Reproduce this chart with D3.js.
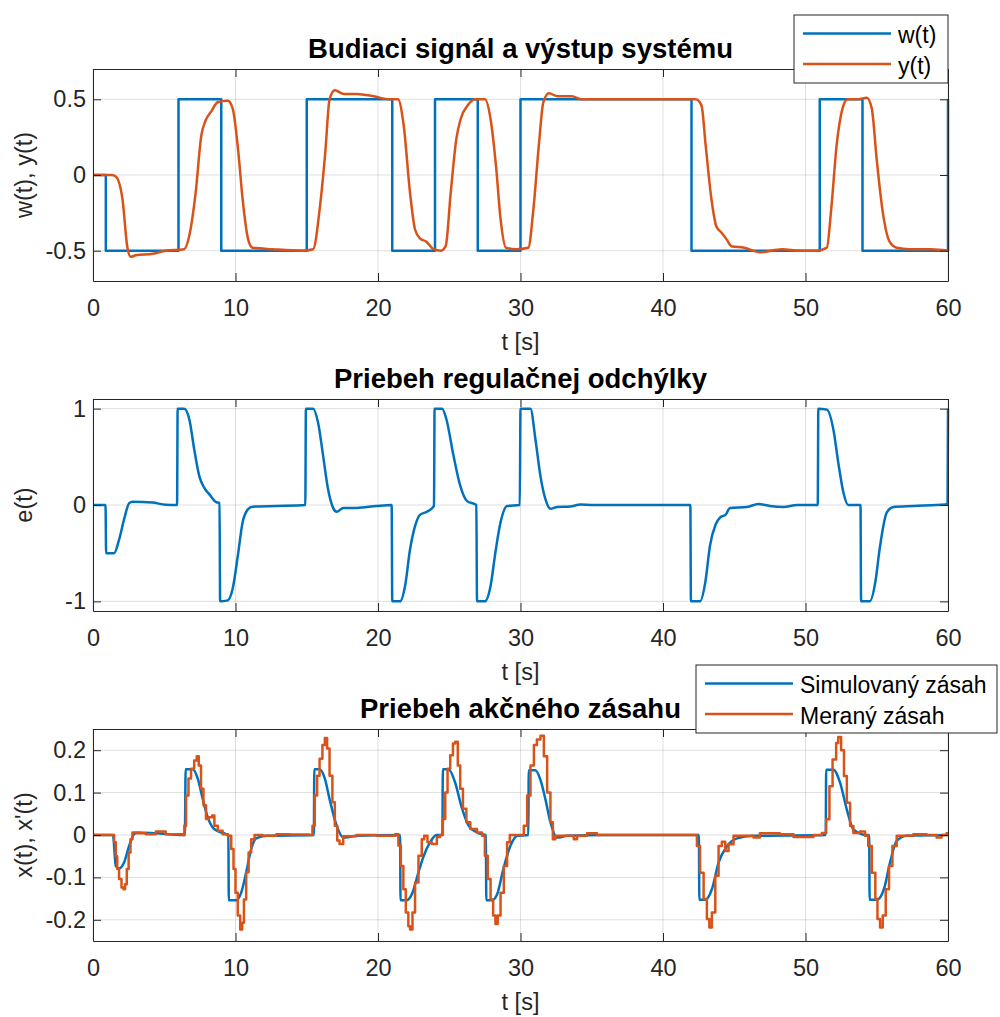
<!DOCTYPE html>
<html>
<head>
<meta charset="utf-8">
<script src="https://cdn.jsdelivr.net/npm/d3@7"></script>
<style>
  body { margin: 0; background: #fff; }
  text { font-family: "Liberation Sans", Arial, Helvetica, sans-serif; }
</style>
</head>
<body>
<svg id="chart"></svg>
<script>
// --- data (t [s], value) ---
let wData = [[0,0],[0.9,0],[0.9,-0.5],[6,-0.5],[6,0.5],[9,0.5],[9,-0.5],[15,-0.5],[15,0.5],[21,0.5],[21,-0.5],
  [24,-0.5],[24,0.5],[27,0.5],[27,-0.5],[30,-0.5],[30,0.5],[42,0.5],[42,-0.5],[51,-0.5],[51,0.5],[54,0.5],[54,-0.5],
  [60,-0.5],[60,0.5]];

let yData = [[0,0],[1.3,0],[1.6,-0.01],[2.07,-0.16],[2.4,-0.47],[2.65,-0.54],[3.0,-0.53],[4.2,-0.52],[5.1,-0.5],
  [6.4,-0.49],[6.76,-0.4],[7.2,-0.12],[7.6,0.26],[7.9,0.36],[8.3,0.42],[8.75,0.48],[9.46,0.49],[9.8,0.44],
  [10.2,0.15],[10.5,-0.16],[10.9,-0.43],[11.2,-0.48],[12.6,-0.49],[14.7,-0.5],[15.45,-0.49],[15.9,-0.23],
  [16.3,0.15],[16.6,0.5],[16.97,0.56],[17.6,0.535],[18.5,0.535],[19.7,0.52],[20.8,0.5],[21.4,0.5],[21.8,0.33],
  [22.25,-0.12],[22.6,-0.36],[22.96,-0.42],[23.4,-0.44],[23.9,-0.49],[24.4,-0.5],[24.75,-0.47],[25.1,-0.12],
  [25.5,0.24],[25.8,0.37],[26.3,0.46],[26.8,0.5],[27.5,0.5],[27.9,0.37],[28.3,0.04],[28.6,-0.29],[28.98,-0.48],
  [29.7,-0.49],[30.55,-0.48],[30.9,-0.23],[31.3,0.21],[31.6,0.48],[32.0,0.54],[32.6,0.52],[33.6,0.52],[34.3,0.5],
  [35.0,0.5],[42.3,0.5],[42.7,0.46],[43.0,0.19],[43.4,-0.16],[43.75,-0.34],[44.1,-0.38],[44.5,-0.43],[44.8,-0.47],
  [45.7,-0.48],[46.8,-0.51],[48.35,-0.49],[49.6,-0.5],[50.8,-0.5],[51.5,-0.48],[51.8,-0.23],[52.2,0.21],
  [52.6,0.44],[52.95,0.5],[53.7,0.5],[54.3,0.51],[54.65,0.44],[55.0,0.1],[55.4,-0.23],[55.9,-0.44],[56.4,-0.48],
  [57.3,-0.49],[58.8,-0.49],[60,-0.5]];

let eData = [[0,0],[0.88,0],[0.92,-0.5],[1.48,-0.5],[1.83,-0.36],[2.18,-0.15],[2.54,0.02],[2.77,0.035],[4.18,0.025],
  [5.1,0.003],[5.9,0],[5.94,1],[6.4,1],[6.76,0.89],[7.1,0.58],[7.46,0.3],[7.8,0.18],[8.17,0.11],[8.64,0.03],
  [8.88,0.02],[8.92,-1],[9.46,-0.99],[9.8,-0.87],[10.16,-0.53],[10.5,-0.18],[10.87,-0.045],[11.2,-0.017],
  [12.86,-0.01],[14.9,0],[14.94,1],[15.45,1],[15.8,0.85],[16.15,0.51],[16.5,0.16],[16.85,-0.03],[17.1,-0.07],
  [17.56,-0.03],[18.5,-0.03],[19.9,-0.01],[20.96,0],[21.0,-1],[21.55,-1],[21.9,-0.84],[22.25,-0.46],[22.6,-0.22],
  [22.96,-0.1],[23.43,-0.07],[23.93,-0.01],[23.97,1],[24.5,1],[24.8,0.89],[25.3,0.51],[25.77,0.2],[26.25,0.04],
  [26.9,0],[26.95,-1],[27.5,-1],[27.9,-0.84],[28.24,-0.49],[28.6,-0.18],[29.06,-0.01],[29.95,0],[30.0,1],
  [30.7,1],[31.05,0.68],[31.4,0.3],[31.75,0.06],[32.1,-0.04],[32.57,-0.02],[33.5,-0.015],[34.2,0.005],[35.1,0],
  [41.92,0],[41.96,-1],[42.6,-1],[42.97,-0.8],[43.3,-0.42],[43.7,-0.2],[44.0,-0.13],[44.4,-0.1],[44.7,-0.03],
  [45.9,-0.02],[46.7,0.01],[47.5,-0.01],[48.46,-0.02],[49.4,0],[50.86,0],[50.9,1],[51.5,0.99],[51.96,0.78],
  [52.3,0.44],[52.66,0.13],[53.0,0],[53.86,0],[53.9,-1],[54.5,-1],[54.9,-0.8],[55.2,-0.46],[55.7,-0.08],
  [56.17,-0.02],[57.57,-0.01],[59.8,0.005],[59.97,0.01],[60,1]];

let xSimData = [[0,0],[1.4,0],[1.6,-0.073],[1.83,-0.079],[2.18,-0.065],[2.54,-0.025],[2.9,0.003],[3.12,0.006],
  [4.4,0.004],[6.3,0],[6.45,0],[6.5,0.155],[7.0,0.155],[7.35,0.133],[7.7,0.085],[8.05,0.042],[8.5,0.014],
  [9.34,0.002],[9.5,0],[9.53,-0.154],[10.05,-0.154],[10.4,-0.136],[10.75,-0.088],[11.1,-0.033],[11.45,-0.008],
  [12.16,-0.002],[15.5,0],[15.53,0.155],[15.9,0.155],[16.27,0.133],[16.6,0.085],[17.1,0.022],[17.56,-0.006],
  [18.5,-0.002],[21.55,0],[21.58,-0.154],[22.0,-0.154],[22.37,-0.14],[22.84,-0.088],[23.2,-0.05],[23.66,-0.017],
  [24.1,0],[24.52,0],[24.55,0.155],[24.95,0.155],[25.4,0.125],[25.9,0.062],[26.36,0.022],[27.07,0.004],[27.57,0],
  [27.6,-0.154],[28.0,-0.154],[28.36,-0.14],[28.8,-0.08],[29.3,-0.025],[29.77,-0.002],[30.55,0],[30.58,0.153],
  [31.05,0.153],[31.4,0.13],[31.75,0.084],[32.1,0.03],[32.57,-0.006],[33.27,-0.002],[35.8,0],[42.52,0],
  [42.55,-0.153],[42.97,-0.153],[43.43,-0.128],[43.9,-0.065],[44.5,-0.026],[45.2,-0.008],[46.35,-0.002],
  [51.42,0],[51.45,0.154],[51.96,0.154],[52.43,0.123],[52.9,0.06],[53.36,0.013],[54.3,0],[54.47,0],
  [54.5,-0.153],[55.0,-0.153],[55.5,-0.128],[55.93,-0.065],[56.4,-0.014],[57.1,-0.002],[60,0]];

let xMerData = [[0,0],[1.36,0],[1.48,-0.017],[1.6,-0.05],[1.7,-0.08],[1.83,-0.104],[2.0,-0.124],[2.14,-0.128],
  [2.25,-0.116],[2.37,-0.08],[2.5,-0.041],[2.63,-0.01],[2.77,0.006],[3.0,0.004],[3.7,0.002],[4.41,0.008],
  [5.1,0.002],[6.3,0],[6.41,0.022],[6.53,0.093],[6.7,0.133],[6.88,0.156],[7.1,0.176],[7.28,0.186],[7.42,0.164],
  [7.58,0.109],[7.75,0.07],[7.93,0.038],[8.12,0.042],[8.36,0.046],[8.52,0.022],[8.76,0.01],[9.1,0.002],
  [9.46,-0.002],[9.7,-0.033],[9.86,-0.08],[10.0,-0.136],[10.16,-0.19],[10.33,-0.223],[10.47,-0.207],
  [10.59,-0.152],[10.75,-0.088],[10.92,-0.041],[11.1,-0.01],[11.34,0],[11.9,-0.002],[12.86,0.002],[13.8,0.001],
  [15.2,0],[15.4,0.022],[15.56,0.093],[15.73,0.14],[15.9,0.18],[16.1,0.212],[16.27,0.229],[16.43,0.204],
  [16.6,0.14],[16.8,0.077],[16.97,0.022],[17.14,-0.013],[17.3,-0.021],[17.56,-0.003],[18.5,0],[19.9,-0.002],
  [21.2,0.002],[21.43,-0.025],[21.6,-0.073],[21.78,-0.128],[21.95,-0.183],[22.13,-0.215],[22.25,-0.223],
  [22.42,-0.183],[22.6,-0.112],[22.84,-0.049],[23.07,-0.01],[23.24,-0.002],[23.47,-0.017],[23.78,-0.021],
  [24.13,-0.005],[24.36,0],[24.55,0.038],[24.72,0.1],[24.88,0.156],[25.07,0.188],[25.26,0.216],[25.42,0.22],
  [25.6,0.164],[25.77,0.109],[25.96,0.062],[26.2,0.03],[26.48,0.014],[26.95,0.006],[27.3,-0.002],[27.5,-0.049],
  [27.7,-0.104],[27.9,-0.152],[28.08,-0.19],[28.24,-0.21],[28.4,-0.19],[28.6,-0.136],[28.83,-0.073],
  [29.06,-0.017],[29.25,0],[30.0,0],[30.23,0.022],[30.47,0.093],[30.7,0.164],[30.94,0.212],[31.15,0.225],
  [31.4,0.234],[31.64,0.186],[31.87,0.1],[32.1,0.03],[32.27,-0.01],[32.45,-0.002],[33.0,-0.002],[33.74,-0.01],
  [33.97,-0.002],[34.67,0.004],[35.37,0],[42.15,0],[42.38,-0.026],[42.6,-0.089],[42.85,-0.151],[43.08,-0.198],
  [43.25,-0.218],[43.43,-0.183],[43.67,-0.096],[43.9,-0.026],[44.13,-0.016],[44.37,-0.038],[44.6,-0.022],
  [44.95,-0.002],[45.9,-0.002],[46.35,-0.006],[46.8,0.004],[48.2,0.002],[49.16,-0.005],[50.56,0],[51.15,0.005],
  [51.45,0.037],[51.68,0.115],[51.9,0.178],[52.15,0.217],[52.3,0.231],[52.5,0.2],[52.7,0.139],[52.9,0.076],
  [53.13,0.021],[53.36,0.005],[53.83,0.008],[54.18,-0.002],[54.4,-0.026],[54.65,-0.089],[54.9,-0.151],
  [55.05,-0.198],[55.23,-0.218],[55.42,-0.19],[55.63,-0.128],[55.86,-0.073],[56.1,-0.026],[56.4,-0.002],
  [57.57,0.002],[58.5,0],[59.2,-0.006],[59.55,0],[59.9,0.004],[60,0.004]];

let xTicks = [0, 10, 20, 30, 40, 50, 60];
let yTicks1 = [-0.5, 0, 0.5];
let yTicks2 = [-1, 0, 1];
let yTicks3 = [-0.2, -0.1, 0, 0.1, 0.2];

let blue = "#0072BD";
let orange = "#D95319";
let axisColor = "#262626";

let width = 1000;
let height = 1017;
let left = 93;
let right = 948;
let panelH = 212;
let fontSize = "23.5px";

let svg = d3.select("#chart").attr("width", width).attr("height", height);
svg.append("rect").attr("width", width).attr("height", height).attr("fill", "#fff");

let xScale = d3.scaleLinear().domain([0, 60]).range([left, right]);

let fmt = d => String(d);

let drawPanel = (cfg) => {
  let top = cfg.top;
  let bottom = top + panelH;
  let yScale = d3.scaleLinear().domain(cfg.yDomain).range([bottom, top]);
  let g = svg.append("g");

  // grid
  g.append("g").selectAll("line").data(xTicks).enter().append("line")
    .attr("x1", d => xScale(d)).attr("x2", d => xScale(d))
    .attr("y1", top).attr("y2", bottom)
    .attr("stroke", axisColor).attr("stroke-opacity", 0.15);
  g.append("g").selectAll("line").data(cfg.yTicks).enter().append("line")
    .attr("x1", left).attr("x2", right)
    .attr("y1", d => yScale(d)).attr("y2", d => yScale(d))
    .attr("stroke", axisColor).attr("stroke-opacity", 0.15);

  // series
  cfg.series.forEach(s => {
    let line = d3.line()
      .x(d => xScale(d[0]))
      .y(d => yScale(d[1]))
      .curve(s.curve);
    g.append("path")
      .datum(s.data)
      .attr("d", line)
      .attr("fill", "none")
      .attr("stroke", s.color)
      .attr("stroke-width", 2.5)
      .attr("stroke-linejoin", "round");
  });

  // axes (ticks pointing inward, box on)
  let styleAxis = sel => {
    sel.selectAll("path.domain").attr("stroke", axisColor);
    sel.selectAll(".tick line").attr("stroke", axisColor);
    sel.selectAll(".tick text").attr("fill", axisColor).style("font-size", fontSize)
      .style("font-family", "'Liberation Sans', Arial, sans-serif");
  };

  g.append("g").attr("transform", "translate(0," + bottom + ")")
    .call(d3.axisBottom(xScale).tickValues(xTicks).tickFormat(fmt).tickSizeInner(-8).tickSizeOuter(0).tickPadding(18))
    .call(styleAxis);
  g.append("g").attr("transform", "translate(0," + top + ")")
    .call(d3.axisTop(xScale).tickValues(xTicks).tickFormat("").tickSizeInner(-8).tickSizeOuter(0))
    .call(styleAxis);
  g.append("g").attr("transform", "translate(" + left + ",0)")
    .call(d3.axisLeft(yScale).tickValues(cfg.yTicks).tickFormat(fmt).tickSizeInner(-8).tickSizeOuter(0).tickPadding(7))
    .call(styleAxis);
  g.append("g").attr("transform", "translate(" + right + ",0)")
    .call(d3.axisRight(yScale).tickValues(cfg.yTicks).tickFormat("").tickSizeInner(-8).tickSizeOuter(0))
    .call(styleAxis);

  // labels
  g.append("text")
    .attr("x", (left + right) / 2).attr("y", top - 11.5)
    .attr("text-anchor", "middle")
    .style("font-size", "27.5px").style("font-weight", "bold").attr("fill", "#000")
    .text(cfg.title);
  g.append("text")
    .attr("x", (left + right) / 2).attr("y", bottom + 69)
    .attr("text-anchor", "middle")
    .style("font-size", fontSize).attr("fill", axisColor)
    .text("t [s]");
  g.append("text")
    .attr("transform", "translate(32," + (top + bottom) / 2 + ") rotate(-90)")
    .attr("text-anchor", "middle")
    .style("font-size", fontSize).attr("fill", axisColor)
    .text(cfg.ylabel);
};

let drawLegend = (x, y, w, items) => {
  let g = svg.append("g");
  g.append("rect")
    .attr("x", x).attr("y", y).attr("width", w).attr("height", 68)
    .attr("fill", "#fff").attr("stroke", axisColor).attr("stroke-width", 1);
  items.forEach((it, i) => {
    let cy = y + 18.5 + i * 30.5;
    g.append("line")
      .attr("x1", x + 9).attr("x2", x + 97)
      .attr("y1", cy).attr("y2", cy)
      .attr("stroke", it.color).attr("stroke-width", 2.5);
    g.append("text")
      .attr("x", x + 104).attr("y", cy + 9.5)
      .style("font-size", "23px").attr("fill", "#000")
      .text(it.label);
  });
};

drawPanel({
  top: 69, yDomain: [-0.7, 0.7], yTicks: yTicks1,
  title: "Budiaci signál a výstup systému", ylabel: "w(t), y(t)",
  series: [
    { data: wData, color: blue, curve: d3.curveLinear },
    { data: yData, color: orange, curve: d3.curveMonotoneX }
  ]
});

drawPanel({
  top: 399, yDomain: [-1.1, 1.1], yTicks: yTicks2,
  title: "Priebeh regulačnej odchýlky", ylabel: "e(t)",
  series: [
    { data: eData, color: blue, curve: d3.curveMonotoneX }
  ]
});

drawPanel({
  top: 729, yDomain: [-0.25, 0.25], yTicks: yTicks3,
  title: "Priebeh akčného zásahu", ylabel: "x(t), x'(t)",
  series: [
    { data: xSimData, color: blue, curve: d3.curveMonotoneX },
    { data: xMerData, color: orange, curve: d3.curveStepAfter }
  ]
});

drawLegend(794, 15, 154, [
  { label: "w(t)", color: blue },
  { label: "y(t)", color: orange }
]);

drawLegend(696, 665, 301, [
  { label: "Simulovaný zásah", color: blue },
  { label: "Meraný zásah", color: orange }
]);
</script>
</body>
</html>
